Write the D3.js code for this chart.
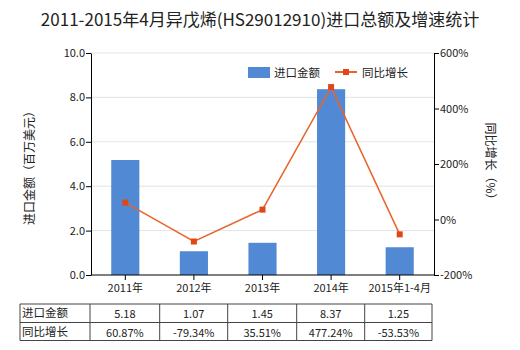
<!DOCTYPE html>
<html><head><meta charset="utf-8">
<script src="https://cdn.jsdelivr.net/npm/d3@7"></script>
<style>
body{margin:0;background:#fff;}
text{font-family:"Noto Sans CJK SC","Liberation Sans",sans-serif;fill:#222;}
</style></head><body>
<svg id="c" width="520" height="350"></svg>
<script>
const title = "2011-2015年4月异戊烯(HS29012910)进口总额及增速统计";
const categories = ["2011年","2012年","2013年","2014年","2015年1-4月"];
const importValues = [5.18,1.07,1.45,8.37,1.25];
const growthValues = [60.87,-79.34,35.51,477.24,-53.53];
const importLabels = ["5.18","1.07","1.45","8.37","1.25"];
const growthLabels = ["60.87%","-79.34%","35.51%","477.24%","-53.53%"];
const leftTicks = [0,2,4,6,8,10];
const rightTicks = [-200,0,200,400,600];
const seriesNames = ["进口金额","同比增长"];
const leftTitle = "进口金额（百万美元）";
const rightTitle = "同比增长（%）";

const svg = d3.select("#c");
const L=91, R=434, T=53, B=275;
const barColor="#5189d4", lineColor="#e8652a", markColor="#e0461a";

const x = d3.scaleBand().domain(categories).range([L,R]).paddingInner(0.59).paddingOuter(0.295);
const y = d3.scaleLinear().domain([0,10]).range([B,T]);
const y2 = d3.scaleLinear().domain([-200,600]).range([B,T]);

// gridlines
svg.append("g").selectAll("line").data(leftTicks.slice(1)).join("line")
  .attr("x1",L).attr("x2",R).attr("y1",d=>y(d)).attr("y2",d=>y(d))
  .attr("stroke","#e3e3e3").attr("stroke-width",1);

// title
svg.append("text").attr("x",260).attr("y",26).attr("text-anchor","middle")
  .style("font-size","17px").text(title);

// bars
svg.append("g").selectAll("rect").data(importValues).join("rect")
  .attr("x",(d,i)=>x(categories[i])).attr("width",x.bandwidth())
  .attr("y",d=>y(d)).attr("height",d=>B-y(d)).attr("fill",barColor);

// line
const cx = c=>x(c)+x.bandwidth()/2;
const line = d3.line().x((d,i)=>cx(categories[i])).y(d=>y2(d));
svg.append("path").datum(growthValues).attr("d",line)
  .attr("fill","none").attr("stroke",lineColor).attr("stroke-width",1.5);
svg.append("g").selectAll("rect").data(growthValues).join("rect")
  .attr("x",(d,i)=>cx(categories[i])-3).attr("y",d=>y2(d)-3)
  .attr("width",6).attr("height",6).attr("fill",markColor);

// axes
const ax = svg.append("g").attr("transform",`translate(${L},0)`)
  .call(d3.axisLeft(y).tickValues(leftTicks).tickFormat(d3.format(".1f")).tickSize(5).tickSizeOuter(0));
const ax2 = svg.append("g").attr("transform",`translate(${R},0)`)
  .call(d3.axisRight(y2).tickValues(rightTicks).tickFormat(d=>d+"%").tickSize(5).tickSizeOuter(0));
const axb = svg.append("g").attr("transform",`translate(0,${B})`)
  .call(d3.axisBottom(x).tickSize(5).tickSizeOuter(0));
[ax,ax2,axb].forEach(a=>{
  a.selectAll("path,line").attr("stroke","#000");
  a.selectAll("text").style("font-size","11px").attr("fill","#222");
  a.select(".domain").attr("stroke","#000");
});
ax.selectAll("text").attr("x",-6);
ax2.selectAll("text").attr("x",6);
axb.selectAll("text").attr("y",9);
axb.select(".domain").attr("d",`M${L},0H${R}`);

// axis titles
svg.append("text").attr("transform","translate(34,165) rotate(-90)")
  .attr("text-anchor","middle").style("font-size","12px").text(leftTitle);
svg.append("text").attr("transform","translate(486,164) rotate(90)")
  .attr("text-anchor","middle").style("font-size","12px").text(rightTitle);

// legend
svg.append("rect").attr("x",248).attr("y",67).attr("width",22).attr("height",11).attr("fill",barColor);
svg.append("text").attr("x",274).attr("y",77).style("font-size","11.5px").text(seriesNames[0]);
svg.append("line").attr("x1",335).attr("x2",357).attr("y1",72).attr("y2",72).attr("stroke",lineColor).attr("stroke-width",2);
svg.append("rect").attr("x",343).attr("y",69).attr("width",6).attr("height",6).attr("fill",markColor);
svg.append("text").attr("x",362).attr("y",77).style("font-size","11.5px").text(seriesNames[1]);

// table
const colX=[20,90,159.7,227.7,296.7,364.7,432];
const rowY=[304,322.5,340.5];
const tg=svg.append("g");
rowY.forEach(yy=>tg.append("line").attr("x1",colX[0]).attr("x2",colX[6]).attr("y1",yy).attr("y2",yy).attr("stroke","#444"));
colX.forEach(xx=>tg.append("line").attr("x1",xx).attr("x2",xx).attr("y1",rowY[0]).attr("y2",rowY[2]).attr("stroke","#444"));
const rows=[[seriesNames[0],importLabels],[seriesNames[1],growthLabels]];
rows.forEach((r,ri)=>{
  const ym=(rowY[ri]+rowY[ri+1])/2+4;
  tg.append("text").attr("x",colX[0]+2).attr("y",ym).style("font-size","11.5px").text(r[0]);
  r[1].forEach((t,i)=>tg.append("text").attr("x",(colX[i+1]+colX[i+2])/2).attr("y",ym+1)
    .attr("text-anchor","middle").style("font-size","11px").text(t));
});
</script></body></html>
